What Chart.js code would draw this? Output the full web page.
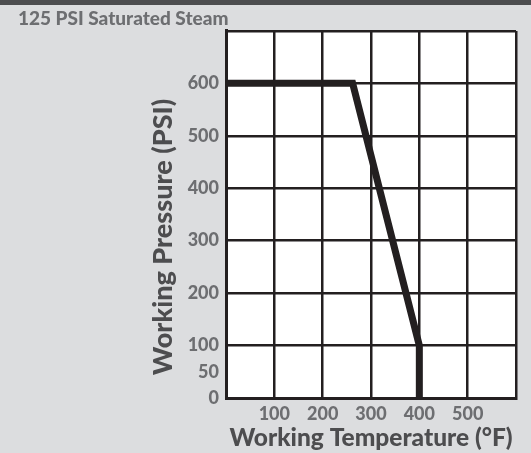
<!DOCTYPE html>
<html>
<head>
<meta charset="utf-8">
<script src="https://cdn.jsdelivr.net/npm/chart.js@4/dist/chart.umd.min.js"></script>
<style>
  body { margin: 0; background: #dcdddf; }
  canvas { display: block; }
</style>
</head>
<body>
<canvas id="graphic" width="531" height="453"></canvas>
<script>
var ctx = document.getElementById('graphic');

// rating curve
var temperatures = [0, 262, 400, 400];
var pressures = [600, 600, 100, 0];
var xTicks = [100, 200, 300, 400, 500];
var yTicks = [0, 50, 100, 200, 300, 400, 500, 600];
var yGridValues = [0, 100, 200, 300, 400, 500, 600, 700];

var inkColor = '#231f20';
var labelColor = '#6d6e71';
var titleColor = '#4d4d4f';
var fontFamily = 'Lato, "Liberation Sans", sans-serif';

var points = [];
for (var i = 0; i < temperatures.length; i++) {
    points.push({ x: temperatures[i], y: pressures[i] });
}

// grey page, dark header strip, white plot area, rotated y title
var backdrop = {
    id: 'backdrop',
    beforeDraw: function (chart) {
        var c = chart.ctx;
        var a = chart.chartArea;
        c.save();
        c.fillStyle = '#dcdddf';
        c.fillRect(0, 0, chart.width, chart.height);
        c.fillStyle = '#4d4d4f';
        c.fillRect(0, 0, chart.width, 5);
        c.fillStyle = '#ffffff';
        c.fillRect(a.left, a.top, a.right - a.left, a.bottom - a.top);
        c.restore();
    },
    afterDraw: function (chart) {
        var c = chart.ctx;
        c.save();
        c.translate(163, 237);
        c.rotate(-Math.PI / 2);
        c.font = '900 27px ' + fontFamily;
        c.fillStyle = titleColor;
        c.textAlign = 'center';
        c.textBaseline = 'middle';
        c.fillText('Working Pressure (PSI)', 0, 0);
        c.restore();
    }
};

var chartGraph = new Chart(ctx, {
    type: 'scatter',
    data: {
        datasets: [{
            label: '125 PSI Saturated Steam',
            data: points,
            showLine: true,
            borderColor: inkColor,
            borderWidth: 7,
            pointRadius: 0,
            tension: 0
        }]
    },
    options: {
        responsive: false,
        animation: false,
        layout: { padding: { left: 18, right: 15, top: 0, bottom: 0 } },
        plugins: {
            legend: { display: false },
            tooltip: { enabled: false },
            title: {
                display: true,
                text: '125 PSI Saturated Steam',
                align: 'start',
                color: labelColor,
                font: { family: fontFamily, size: 19, weight: '900', lineHeight: 1.1 },
                padding: { top: 8, bottom: 2 }
            }
        },
        scales: {
            x: {
                type: 'linear',
                min: 0,
                max: 600,
                afterBuildTicks: function (axis) {
                    axis.ticks = [0].concat(xTicks, [600]).map(function (v) { return { value: v }; });
                },
                afterFit: function (axis) { axis.height = 55; },
                ticks: {
                    padding: 5,
                    color: labelColor,
                    font: { family: fontFamily, size: 18, weight: '900' },
                    maxRotation: 0,
                    callback: function (v) { return xTicks.indexOf(v) >= 0 ? String(v) : ''; }
                },
                grid: { color: inkColor, lineWidth: 2.5, drawTicks: false },
                border: { color: inkColor, width: 3 },
                title: {
                    display: true,
                    text: 'Working Temperature (°F)',
                    color: titleColor,
                    font: { family: fontFamily, size: 24.5, weight: '900' },
                    padding: 0
                }
            },
            y: {
                type: 'linear',
                min: 0,
                max: 700,
                afterBuildTicks: function (axis) {
                    var vals = yTicks.concat(yGridValues).filter(function (v, i, arr) { return arr.indexOf(v) === i; });
                    vals.sort(function (a, b) { return a - b; });
                    axis.ticks = vals.map(function (v) { return { value: v }; });
                },
                afterFit: function (axis) { axis.width = 208; },
                ticks: {
                    padding: 7,
                    color: labelColor,
                    font: { family: fontFamily, size: 18, weight: '900' },
                    callback: function (v) { return yTicks.indexOf(v) >= 0 ? String(v) : ''; }
                },
                grid: {
                    lineWidth: 2.5,
                    drawTicks: false,
                    color: function (c) {
                        return yGridValues.indexOf(c.tick.value) >= 0 ? inkColor : 'rgba(0,0,0,0)';
                    }
                },
                border: { color: inkColor, width: 3 }
            }
        }
    },
    plugins: [backdrop]
});
</script>
</body>
</html>
